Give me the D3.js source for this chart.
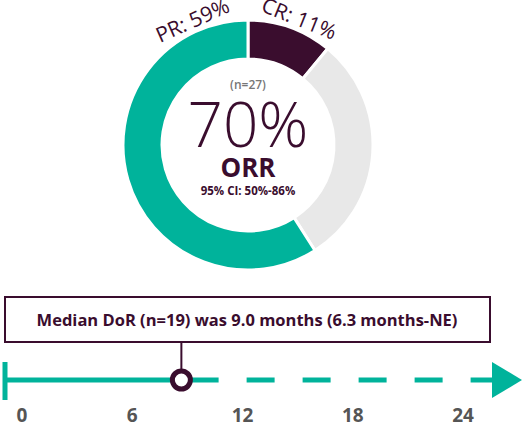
<!DOCTYPE html>
<html><head><meta charset="utf-8">
<script src="https://cdn.jsdelivr.net/npm/d3@7"></script>
<style>body{margin:0;background:#fff}text{font-family:"Open Sans",sans-serif}</style>
</head><body><div id="wrapper"></div>
<script>
const segments = ["CR", "Other", "PR"];
const segValues = [11, 30, 59];
const segColors = ["#3a0d2e", "#e8e8e8", "#00b39b"];
const months = [0, 6, 12, 18, 24];
const medianDoR = 9.0;
const solidEnd = 10.7;

const svg = d3.select("#wrapper").append("svg").attr("width", 525).attr("height", 430);
const purple = "#3a0d2e", teal = "#00b39b";

// donut
const g = svg.append("g").attr("transform", "translate(248,145)");
const pie = d3.pie().sort(null).value(d => d);
const arc = d3.arc().innerRadius(86).outerRadius(125);
const arcs = pie(segValues);
g.selectAll("path").data(arcs).join("path")
    .attr("d", arc).attr("fill", (d, i) => segColors[i])
    .attr("stroke", "#fff").attr("stroke-width", 3);

// labels sitting on the outer edge, rotated with the ring
[["CR: 11%", 22], ["PR: 59%", -24]].forEach(([t, deg]) => {
    g.append("text")
        .attr("transform", `rotate(${deg}) translate(0,-129)`)
        .attr("text-anchor", "middle").attr("font-size", 21).attr("fill", purple).text(t);
});

g.append("text").attr("y", -56).attr("text-anchor", "middle").attr("font-size", 12)
    .attr("font-weight", 600).attr("fill", "#777").text("(n=27)");
g.append("text").attr("y", 2).attr("text-anchor", "middle").attr("font-size", 62)
    .attr("font-weight", 300).attr("fill", purple).text("70%");
g.append("text").attr("y", 32).attr("text-anchor", "middle").attr("font-size", 26)
    .attr("font-weight", 700).attr("fill", purple).text("ORR");
g.append("text").attr("y", 50).attr("text-anchor", "middle").attr("font-size", 11.5)
    .attr("font-weight", 700).attr("fill", purple).text("95% CI: 50%-86%");

// timeline
const x = d3.scaleLinear().domain([0, 24]).range([22, 463]);
const yL = 380;
svg.append("line").attr("x1", 5).attr("x2", 5).attr("y1", 362).attr("y2", 400)
    .attr("stroke", teal).attr("stroke-width", 5);
svg.append("line").attr("x1", 5).attr("x2", x(solidEnd)).attr("y1", yL).attr("y2", yL)
    .attr("stroke", teal).attr("stroke-width", 5);
svg.append("line").attr("x1", x(solidEnd) + 28).attr("x2", 492).attr("y1", yL).attr("y2", yL)
    .attr("stroke", teal).attr("stroke-width", 5).attr("stroke-dasharray", "28,28");
svg.append("path").attr("d", `M492,362 L522,380 L492,398 Z`).attr("fill", teal);

svg.selectAll(".tick").data(months).join("text").attr("class", "tick")
    .attr("x", d => x(d)).attr("y", 422).attr("text-anchor", "middle")
    .attr("font-size", 19).attr("font-weight", 700).attr("fill", "#555").text(d => d);

svg.append("rect").attr("x", 5).attr("y", 297).attr("width", 485).attr("height", 45)
    .attr("fill", "#fff").attr("stroke", purple).attr("stroke-width", 2);
svg.append("text").attr("x", 247).attr("y", 326).attr("text-anchor", "middle")
    .attr("font-size", 16.5).attr("font-weight", 700).attr("fill", purple)
    .text("Median DoR (n=19) was 9.0 months (6.3 months-NE)");
svg.append("line").attr("x1", x(medianDoR) - 6).attr("x2", x(medianDoR) - 6).attr("y1", 342).attr("y2", yL)
    .attr("stroke", purple).attr("stroke-width", 2);
svg.append("circle").attr("cx", x(medianDoR) - 6).attr("cy", yL).attr("r", 9)
    .attr("fill", "#fff").attr("stroke", purple).attr("stroke-width", 5);
</script></body></html>
